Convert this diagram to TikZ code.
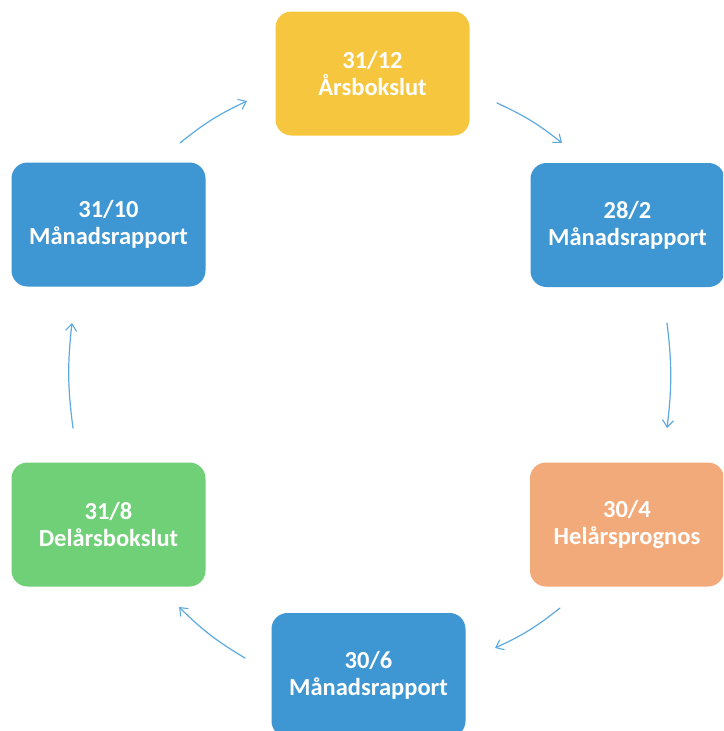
\documentclass[tikz,border=0pt]{standalone}
\usepackage{fontspec}
\setmainfont{Carlito}
\usetikzlibrary{arrows.meta}
\definecolor{cblue}{RGB}{62,150,210}
\definecolor{cyellow}{RGB}{246,199,62}
\definecolor{corange}{RGB}{243,170,122}
\definecolor{cgreen}{RGB}{112,208,120}
\definecolor{carrow}{RGB}{92,170,224}
\tikzset{
  box/.style={rounded corners=16pt, minimum width=194pt, minimum height=124pt,
    inner sep=0pt, align=center, text=white,
    font=\fontsize{24.5}{27}\selectfont\bfseries},
  cyc/.style={draw=carrow, line width=1.2pt, line cap=round,
    -{Straight Barb[length=7pt,width=11pt,line width=1.1pt]}, bend left=7}
}
\begin{document}
\begin{tikzpicture}[x=1pt,y=-1pt]
\useasboundingbox (0,0) rectangle (723,731);
\fill[white] (0,0) rectangle (723,731);
\begin{scope}
\clip (0,0) rectangle (723,731);
\node[box, fill=cyellow] (dec) at (372.5,73.5) {31/12\\Årsbokslut};
\node[box, fill=cblue] (feb) at (627.5,225) {28/2\\Månadsrapport};
\node[box, fill=corange] (apr) at (627,524.5) {30/4\\Helårsprognos};
\node[box, fill=cblue] (jun) at (368.5,675) {30/6\\Månadsrapport};
\node[box, fill=cgreen] (aug) at (108.5,524.5) {31/8\\Delårsbokslut};
\node[box, fill=cblue] (oct) at (108.5,224.5) {31/10\\Månadsrapport};
\end{scope}
\coordinate (a1s) at (180,143); \coordinate (a1e) at (247,101);
\coordinate (a2s) at (497,103); \coordinate (a2e) at (562,143);
\coordinate (a3s) at (667,323); \coordinate (a3e) at (667,428);
\coordinate (a4s) at (560,608); \coordinate (a4e) at (495,648);
\coordinate (a5s) at (245,658); \coordinate (a5e) at (179,607);
\coordinate (a6s) at (73,428); \coordinate (a6e) at (72,323);
\draw[cyc] (a1s) to (a1e);
\draw[cyc] (a2s) to (a2e);
\draw[cyc] (a3s) to (a3e);
\draw[cyc] (a4s) to (a4e);
\draw[cyc] (a5s) to (a5e);
\draw[cyc] (a6s) to (a6e);
\end{tikzpicture}
\end{document}
